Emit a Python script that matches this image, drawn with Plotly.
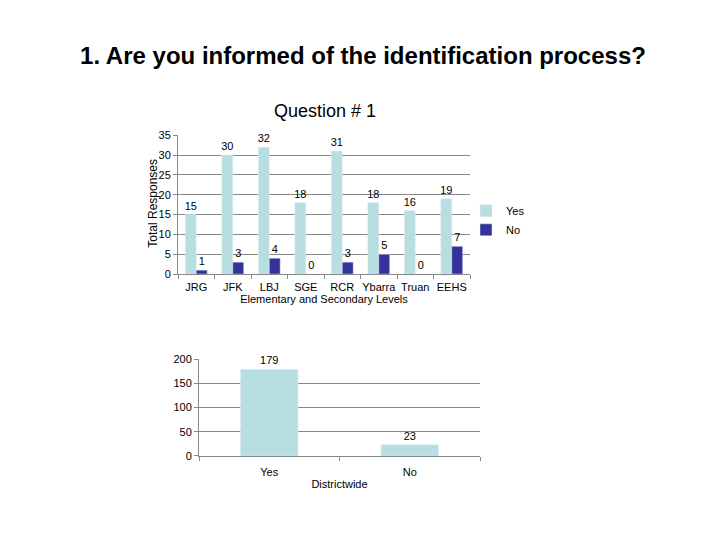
import plotly.graph_objects as go

schools = ["JRG", "JFK", "LBJ", "SGE", "RCR", "Ybarra", "Truan", "EEHS"]
yes_vals = [15, 30, 32, 18, 31, 18, 16, 19]
no_vals = [1, 3, 4, 0, 3, 5, 0, 7]

dist_cats = ["Yes", "No"]
dist_vals = [179, 23]

YES_C = "#B7DEE1"
NO_C = "#333399"
FONT = "Liberation Sans, Arial, sans-serif"

# page body has an 8px margin; convert screen pixels to paper coords
OFF = 8
W, H = 720, 540


def px(x):
    return (x - OFF) / W


def py(y):
    return 1 - (y - OFF) / H


label_font = dict(size=11, color="black", family=FONT)

fig = go.Figure()
fig.add_trace(go.Bar(x=schools, y=yes_vals, name="Yes", marker_color=YES_C,
                     text=yes_vals, textposition="outside", cliponaxis=False,
                     constraintext="none", textfont=label_font,
                     xaxis="x", yaxis="y"))
fig.add_trace(go.Bar(x=schools, y=no_vals, name="No", marker_color=NO_C,
                     text=no_vals, textposition="outside", cliponaxis=False,
                     constraintext="none", textfont=label_font,
                     xaxis="x", yaxis="y"))
fig.add_trace(go.Bar(x=dist_cats, y=dist_vals, name="Districtwide", marker_color=YES_C,
                     text=dist_vals, textposition="outside", cliponaxis=False,
                     constraintext="none", textfont=label_font, showlegend=False,
                     xaxis="x2", yaxis="y2", width=0.41))

axis_common = dict(showline=True, linecolor="#888888", linewidth=1,
                   tickfont=dict(size=11, color="black", family=FONT))

fig.update_layout(
    width=W, height=H,
    margin=dict(l=0, r=0, t=0, b=0),
    paper_bgcolor="white", plot_bgcolor="white",
    font=dict(family=FONT, color="black"),
    barmode="group", bargap=0.4, bargroupgap=0,
    title=dict(text="<b>1. Are you informed of the identification process?</b>",
               x=px(363), xanchor="center", y=py(56), yanchor="middle",
               font=dict(size=24, family=FONT, color="black")),
    xaxis=dict(domain=[px(178), px(470)], anchor="y", ticks="outside",
               tickson="boundaries", ticklen=4, tickcolor="#888888", tickangle=0,
               ticklabelstandoff=3,
               title=dict(text="Elementary and Secondary Levels", standoff=1,
                          font=dict(size=11)), **axis_common),
    yaxis=dict(domain=[py(274), py(132)], anchor="x", range=[0, 35],
               dtick=5, showgrid=True, gridcolor="#888888", gridwidth=1,
               ticks="outside", ticklen=4, tickcolor="#888888", zeroline=False,
               **axis_common),
    xaxis2=dict(domain=[px(199), px(480)], anchor="y2", ticks="outside",
                tickson="boundaries", ticklen=4, tickcolor="#888888", tickangle=0,
                ticklabelstandoff=6,
                title=dict(text="Districtwide", standoff=3, font=dict(size=11)),
                **axis_common),
    yaxis2=dict(domain=[py(460), py(361)], anchor="x2", range=[0, 200],
                dtick=50, showgrid=True, gridcolor="#888888", gridwidth=1,
                ticks="outside", ticklen=4, tickcolor="#888888", zeroline=False,
                **axis_common),
    legend=dict(x=px(466), xanchor="left", y=py(219), yanchor="middle",
                font=dict(size=11, family=FONT), bgcolor="rgba(0,0,0,0)",
                itemwidth=30),
    annotations=[
        dict(text="Question # 1", x=px(325), y=py(107),
             xref="paper", yref="paper", showarrow=False,
             xanchor="center", yanchor="middle",
             font=dict(size=18, family=FONT, color="black")),
        dict(text="Total Responses", x=px(153), y=py(202),
             xref="paper", yref="paper", showarrow=False, textangle=-90,
             xanchor="center", yanchor="middle",
             font=dict(size=12, family=FONT, color="black")),
    ],
)

fig.write_html("out.html")
